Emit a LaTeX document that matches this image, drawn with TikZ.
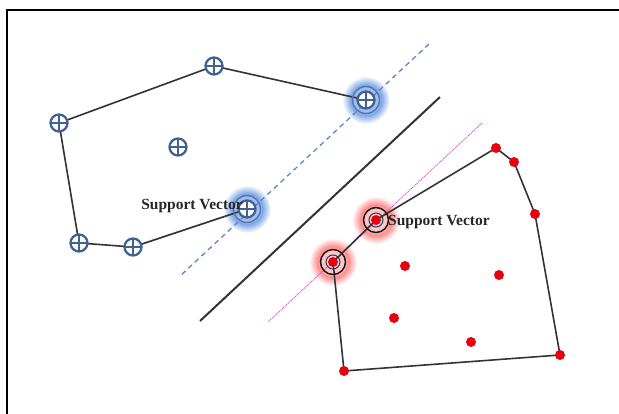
\documentclass[tikz,border=0pt]{standalone}
\usepackage{fontspec}
\setmainfont{Liberation Serif}
\definecolor{plusblue}{HTML}{3F6290}
\definecolor{hullgray}{HTML}{333333}
\definecolor{dashblue}{HTML}{5B87C8}
\definecolor{glowblue}{HTML}{7FA6E6}
\definecolor{marginpink}{HTML}{E050E0}
\definecolor{dotred}{HTML}{E8000F}
% compact halos: the path's radius corresponds to 25bp
\pgfdeclareradialshading{blueglow}{\pgfpoint{0bp}{0bp}}{%
  color(0bp)=(glowblue!65); color(13bp)=(glowblue!75); color(16bp)=(glowblue);
  color(25bp)=(white); color(50bp)=(white)}
\pgfdeclareradialshading{redglow}{\pgfpoint{0bp}{0bp}}{%
  color(0bp)=(red!12); color(12bp)=(red!25); color(16bp)=(red!45);
  color(25bp)=(white); color(50bp)=(white)}
\tikzset{
  plusmark/.style={circle, draw=plusblue, line width=2.3pt, fill=white,
    minimum size=17pt, inner sep=0pt,
    path picture={
      \draw[plusblue, line width=2.3pt]
        (path picture bounding box.north) -- (path picture bounding box.south)
        (path picture bounding box.west) -- (path picture bounding box.east);}},
  reddot/.style={circle, fill=dotred, minimum size=10pt, inner sep=0pt},
  hull/.style={hullgray, line width=1.6pt},
  svlabel/.style={font=\fontsize{15.5}{16}\selectfont\bfseries, text=black!85, inner sep=0pt},
}
\begin{document}
\begin{tikzpicture}[x=1pt, y=-1pt]
\useasboundingbox (0,0) rectangle (619,414);
% open frame
\draw[line width=2.4pt] (7,414) -- (7,10) -- (619,10);

% positive class points
\coordinate (b1) at (59,123);
\coordinate (b2) at (214,66);
\coordinate (b3) at (366,100);
\coordinate (b4) at (178,147);
\coordinate (b5) at (247,209);
\coordinate (b6) at (79,243);
\coordinate (b7) at (133,247);

% negative class points
\coordinate (r1) at (333,262);
\coordinate (r2) at (376,220);
\coordinate (r3) at (496,148);
\coordinate (r4) at (514,162);
\coordinate (r5) at (535,214);
\coordinate (r6) at (560,355);
\coordinate (r7) at (344,371);
\coordinate (r8) at (405,266);
\coordinate (r9) at (499,275);
\coordinate (r10) at (394,318);
\coordinate (r11) at (471,342);

% halos behind the support vectors
\foreach \p in {b3,b5}
  \shade[shading=blueglow] (\p) circle[radius=24pt];
\foreach \p in {r1,r2}
  \shade[shading=redglow] (\p) circle[radius=24pt];

% margin and separating lines
\coordinate (d1) at (429,44);
\coordinate (d2) at (179,277);
\coordinate (s1) at (440,97);
\coordinate (s2) at (200,321);
\coordinate (m1) at (482,123);
\coordinate (m2) at (268,322);
\draw[dashblue, line width=1.3pt, dash pattern=on 5pt off 4pt] (d1) -- (d2);
\draw[hullgray, line width=2pt] (s1) -- (s2);
\draw[marginpink, line width=0.9pt, dash pattern=on 1.2pt off 0.8pt] (m1) -- (m2);

% convex hulls
\draw[hull] (b3) -- (b2) -- (b1) -- (b6) -- (b7) -- (b5);
\draw[hull] (r1) -- (r2) -- (r3) -- (r4) -- (r5) -- (r6) -- (r7) -- cycle;

% rings around the support vectors
\foreach \p in {b3,b5}
  \draw[dashblue!90!black, line width=1.5pt] (\p) circle[radius=13.5pt];
\foreach \p in {r1,r2}{
  \draw[black!90, line width=1.5pt] (\p) circle[radius=12.5pt];
  \draw[plusblue!60!black, line width=1pt] (\p) circle[radius=7pt];
}

% markers
\foreach \p in {b1,b2,b3,b4,b5,b6,b7}
  \node[plusmark] (n\p) at (\p) {};
\foreach \p in {r1,r2,r3,r4,r5,r6,r7,r8,r9,r10,r11}
  \node[reddot] (n\p) at (\p) {};

% labels
\node[svlabel, anchor=east] (lblb) at (243,206) {Support Vector};
\node[svlabel, anchor=west] (lblr) at (388,222) {Support Vector};
\end{tikzpicture}
\end{document}
